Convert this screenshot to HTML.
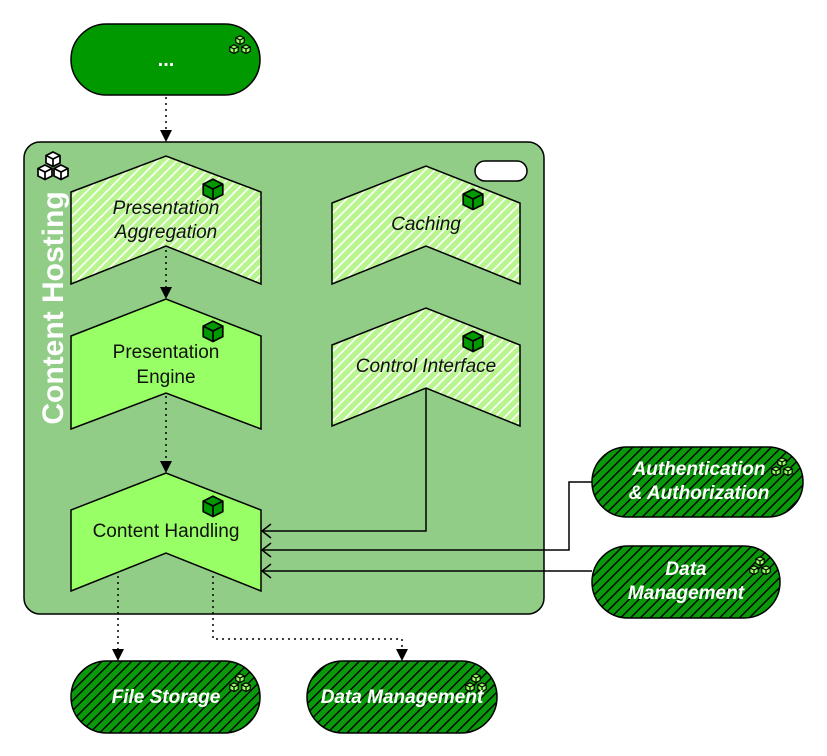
<!DOCTYPE html>
<html><head><meta charset="utf-8"><style>html,body{margin:0;padding:0;background:#fff}svg{display:block}text{font-family:"Liberation Sans",sans-serif}</style></head>
<body>
<svg width="827" height="756" viewBox="0 0 827 756" xmlns="http://www.w3.org/2000/svg">
<defs>
<pattern id="lh" width="7" height="7" patternUnits="userSpaceOnUse" patternTransform="rotate(45)">
<rect width="7" height="7" fill="#b8f58f"/><rect width="1.6" height="7" fill="#ffffff"/>
</pattern>
<pattern id="dh" width="7" height="7" patternUnits="userSpaceOnUse" patternTransform="rotate(45)">
<rect width="7" height="7" fill="#0a990a"/><rect width="1.4" height="7" fill="#000"/>
</pattern>
<marker id="fa" markerWidth="12" markerHeight="12" refX="10" refY="6" orient="auto" markerUnits="userSpaceOnUse">
<path d="M0,0 L12,6 L0,12 z" fill="#000"/></marker>
<marker id="oa" markerWidth="12" markerHeight="16" refX="10" refY="8" orient="auto" markerUnits="userSpaceOnUse">
<path d="M1,1 L10,8 L1,15" fill="none" stroke="#000" stroke-width="1.5"/></marker>
<g id="cube">
<path d="M0,-7 L7,-3.5 L7,4 L0,7.5 L-7,4 L-7,-3.5 z" fill="#009900" stroke="#000" stroke-width="1.2"/>
<path d="M-7,-3.5 L0,0 L7,-3.5 M0,0 L0,7.5" fill="none" stroke="#000" stroke-width="1.2"/>
</g>
<g id="cubeL">
<path d="M0,-7 L7,-3.5 L7,4 L0,7.5 L-7,4 L-7,-3.5 z" fill="#99ff66" stroke="#000" stroke-width="2"/>
<path d="M-7,-3.5 L0,0 L7,-3.5 M0,0 L0,7.5" fill="none" stroke="#000" stroke-width="2"/>
</g>
<g id="cubes3">
<g transform="translate(0,-5) scale(0.6)"><use href="#cubeL"/></g>
<g transform="translate(-6,4) scale(0.6)"><use href="#cubeL"/></g>
<g transform="translate(6,4) scale(0.6)"><use href="#cubeL"/></g>
</g>
<g id="cubeW">
<path d="M0,-7 L7,-3.5 L7,4 L0,7.5 L-7,4 L-7,-3.5 z" fill="#fff" stroke="#000" stroke-width="1.7"/>
<path d="M-7,-3.5 L0,0 L7,-3.5 M0,0 L0,7.5" fill="none" stroke="#000" stroke-width="1.7"/>
</g>
<g id="cubesW">
<g transform="translate(0,-8) scale(1)"><use href="#cubeW"/></g>
<g transform="translate(-8,5) scale(1)"><use href="#cubeW"/></g>
<g transform="translate(8,5) scale(1)"><use href="#cubeW"/></g>
</g>
</defs>

<!-- top pill -->
<rect x="71" y="24" width="189" height="71" rx="35.5" fill="#009900" stroke="#000" stroke-width="1.5"/>
<use href="#cubes3" x="240" y="45"/>
<text x="166" y="66" fill="#fff" font-size="20" font-weight="bold" text-anchor="middle">...</text>
<line x1="166" y1="97" x2="166" y2="140" stroke="#000" stroke-width="1.5" stroke-dasharray="2,4" marker-end="url(#fa)"/>

<!-- container -->
<rect x="24" y="142" width="520" height="472" rx="16" fill="#91cd87" stroke="#000" stroke-width="1.5"/>
<rect x="475" y="161" width="52" height="20" rx="10" fill="#fff" stroke="#000" stroke-width="1.5"/>
<use href="#cubesW" x="53" y="167"/>
<text transform="translate(63,308) rotate(-90)" fill="#fff" font-size="30" font-weight="bold" text-anchor="middle">Content Hosting</text>

<!-- chevrons -->
<path d="M71,192 L166,156 L261,192 L261,284 L166,246 L71,284 z" fill="url(#lh)" stroke="#000" stroke-width="1.5"/>
<g transform="translate(213,189) scale(1.4)"><use href="#cube"/></g>
<text x="166" y="214" font-size="19" font-style="italic" text-anchor="middle" fill="#111">Presentation</text>
<text x="166" y="238" font-size="19" font-style="italic" text-anchor="middle" fill="#111">Aggregation</text>

<path d="M332,203 L426,166 L520,203 L520,284 L426,246 L332,284 z" fill="url(#lh)" stroke="#000" stroke-width="1.5"/>
<g transform="translate(473,199) scale(1.4)"><use href="#cube"/></g>
<text x="426" y="230" font-size="19" font-style="italic" text-anchor="middle" fill="#111">Caching</text>

<path d="M71,336 L166,299 L261,336 L261,429 L166,393 L71,429 z" fill="#99ff66" stroke="#000" stroke-width="1.5"/>
<g transform="translate(213,331) scale(1.4)"><use href="#cube"/></g>
<text x="166" y="358" font-size="19" text-anchor="middle" fill="#111">Presentation</text>
<text x="166" y="383" font-size="19" text-anchor="middle" fill="#111">Engine</text>

<path d="M332,345 L426,308 L520,345 L520,426 L426,388 L332,426 z" fill="url(#lh)" stroke="#000" stroke-width="1.5"/>
<g transform="translate(473,341) scale(1.4)"><use href="#cube"/></g>
<text x="426" y="372" font-size="19" font-style="italic" text-anchor="middle" fill="#111">Control Interface</text>

<path d="M71,510 L166,473 L261,510 L261,591 L166,553 L71,591 z" fill="#99ff66" stroke="#000" stroke-width="1.5"/>
<g transform="translate(213,506) scale(1.4)"><use href="#cube"/></g>
<text x="166" y="537" font-size="19" text-anchor="middle" fill="#111">Content Handling</text>

<!-- connectors -->
<line x1="166" y1="250" x2="166" y2="297" stroke="#000" stroke-width="1.5" stroke-dasharray="2,4" marker-end="url(#fa)"/>
<line x1="166" y1="396" x2="166" y2="471" stroke="#000" stroke-width="1.5" stroke-dasharray="2,4" marker-end="url(#fa)"/>
<polyline points="426,388 426,531 262,531" fill="none" stroke="#000" stroke-width="1.5" marker-end="url(#oa)"/>
<polyline points="592,482 569,482 569,550 262,550" fill="none" stroke="#000" stroke-width="1.5" marker-end="url(#oa)"/>
<polyline points="592,571 262,571" fill="none" stroke="#000" stroke-width="1.5" marker-end="url(#oa)"/>
<line x1="118" y1="576" x2="118" y2="659" stroke="#000" stroke-width="1.5" stroke-dasharray="2,4" marker-end="url(#fa)"/>
<polyline points="213,576 213,639 402,639 402,659" fill="none" stroke="#000" stroke-width="1.5" stroke-dasharray="2,4" marker-end="url(#fa)"/>

<!-- right pills -->
<rect x="592" y="447" width="211" height="70" rx="35" fill="url(#dh)" stroke="#000" stroke-width="1.5"/>
<use href="#cubes3" x="782" y="467"/>
<text x="699" y="475" fill="#fff" font-size="19" font-weight="bold" font-style="italic" text-anchor="middle">Authentication</text>
<text x="699" y="499" fill="#fff" font-size="19" font-weight="bold" font-style="italic" text-anchor="middle">&amp; Authorization</text>

<rect x="592" y="546" width="188" height="72" rx="36" fill="url(#dh)" stroke="#000" stroke-width="1.5"/>
<use href="#cubes3" x="760" y="566"/>
<text x="686" y="575" fill="#fff" font-size="19" font-weight="bold" font-style="italic" text-anchor="middle">Data</text>
<text x="686" y="599" fill="#fff" font-size="19" font-weight="bold" font-style="italic" text-anchor="middle">Management</text>

<!-- bottom pills -->
<rect x="71" y="661" width="189" height="72" rx="36" fill="url(#dh)" stroke="#000" stroke-width="1.5"/>
<use href="#cubes3" x="240" y="683"/>
<text x="166" y="703" fill="#fff" font-size="19" font-weight="bold" font-style="italic" text-anchor="middle">File Storage</text>

<rect x="307" y="661" width="190" height="72" rx="36" fill="url(#dh)" stroke="#000" stroke-width="1.5"/>
<use href="#cubes3" x="476" y="683"/>
<text x="402" y="703" fill="#fff" font-size="19" font-weight="bold" font-style="italic" text-anchor="middle">Data Management</text>
</svg>
</body></html>
